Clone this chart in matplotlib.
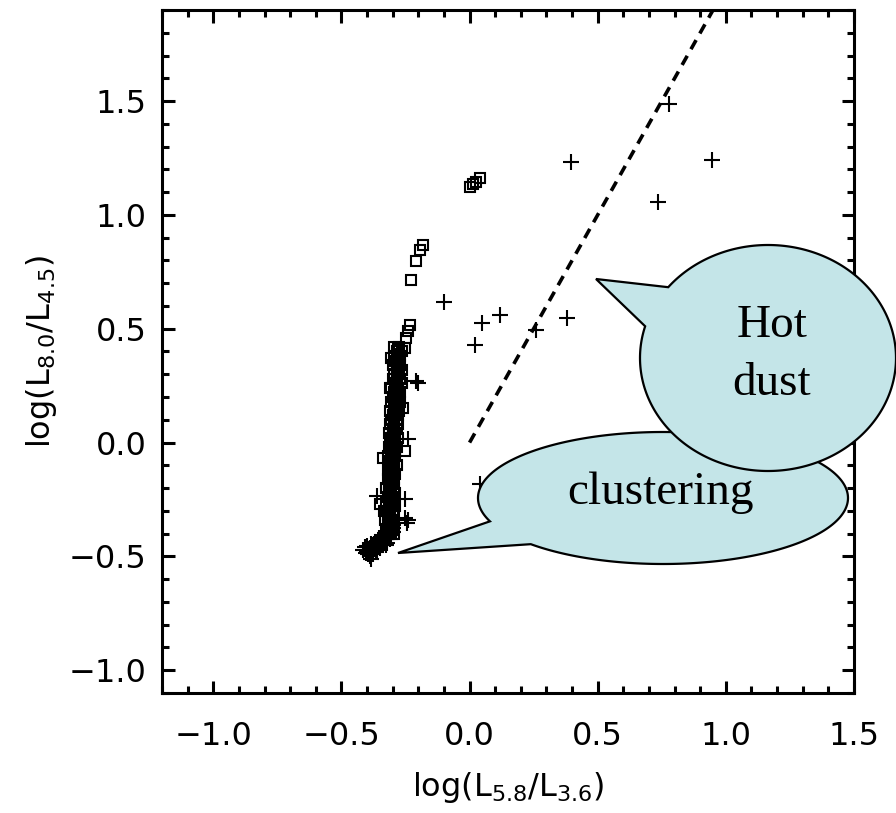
import numpy as np
import matplotlib
matplotlib.use("Agg")
import matplotlib.pyplot as plt
from matplotlib.patches import Polygon
from matplotlib.ticker import MultipleLocator

# ---------------- data ----------------
# open squares: dense column, its upper tail and the small group near (0, 1.1)
sq_x = [-0.275, -0.295, -0.285, -0.265, -0.295, -0.270, -0.290, -0.275, -0.300, -0.270,
        -0.285, -0.265, -0.295, -0.275, -0.300, -0.270, -0.290, -0.265, -0.305, -0.280,
        -0.295, -0.270, -0.300, -0.275, -0.305, -0.270, -0.295, -0.280, -0.310, -0.275,
        -0.300, -0.280, -0.305, -0.285, -0.310, -0.280, -0.300, -0.285, -0.315, -0.290,
        -0.305, -0.280, -0.310, -0.290, -0.315, -0.285, -0.305, -0.290, -0.320, -0.290,
        -0.310, -0.295, -0.315, -0.285, -0.320, -0.295, -0.310, -0.290, -0.320, -0.295,
        -0.315, -0.300, -0.325, -0.295, -0.315, -0.290, -0.320, -0.300, -0.325, -0.295,
        -0.315, -0.290, -0.325, -0.300, -0.320, -0.295, -0.330, -0.300, -0.320, -0.295,
        -0.325, -0.300, -0.315, -0.295,
        -0.280, -0.280, -0.283, -0.285, -0.283, -0.280, -0.285, -0.282, -0.285, -0.288,
        -0.285, -0.290, -0.288, -0.292, -0.290, -0.293, -0.295, -0.293, -0.300, -0.298,
        -0.300, -0.302, -0.298, -0.305, -0.303, -0.302, -0.305, -0.303, -0.305, -0.308,
        -0.310, -0.305, -0.310, -0.310, -0.303, -0.312, -0.310, -0.315, -0.308, -0.312,
        -0.305,
        -0.305, -0.338, -0.253, -0.350, -0.312, -0.335, -0.258,
        -0.253, -0.247, -0.240, -0.234, -0.227, -0.208, -0.195, -0.182,
        0.000, 0.013, 0.026, 0.039]
sq_y = [0.42, 0.42, 0.40, 0.40, 0.38, 0.38, 0.36, 0.36, 0.34, 0.34,
        0.32, 0.32, 0.30, 0.30, 0.28, 0.28, 0.26, 0.26, 0.24, 0.24,
        0.22, 0.22, 0.20, 0.20, 0.18, 0.18, 0.16, 0.16, 0.14, 0.14,
        0.12, 0.12, 0.10, 0.10, 0.08, 0.08, 0.06, 0.06, 0.04, 0.04,
        0.02, 0.02, 0.00, 0.00, -0.02, -0.02, -0.04, -0.04, -0.06, -0.06,
        -0.08, -0.08, -0.10, -0.10, -0.12, -0.12, -0.14, -0.14, -0.16, -0.16,
        -0.18, -0.18, -0.20, -0.20, -0.22, -0.22, -0.24, -0.24, -0.26, -0.26,
        -0.28, -0.28, -0.30, -0.30, -0.32, -0.32, -0.34, -0.34, -0.36, -0.36,
        -0.38, -0.38, -0.40, -0.40,
        0.41, 0.39, 0.37, 0.35, 0.33, 0.31, 0.29, 0.27, 0.25, 0.23,
        0.21, 0.19, 0.17, 0.15, 0.13, 0.11, 0.09, 0.07, 0.05, 0.03,
        0.01, -0.01, -0.03, -0.05, -0.07, -0.09, -0.11, -0.13, -0.15, -0.17,
        -0.19, -0.21, -0.23, -0.25, -0.27, -0.29, -0.31, -0.33, -0.35, -0.37,
        -0.39,
        0.371, -0.066, -0.035, -0.270, 0.240, -0.300, 0.150,
        0.415, 0.459, 0.488, 0.517, 0.713, 0.796, 0.844, 0.869,
        1.121, 1.135, 1.145, 1.160]

# plus signs
pl_x = [0.779, 0.396, 0.945, 0.734, -0.101, 0.117, 0.049, 0.023, 0.379, 0.260, 0.040,
        -0.201, -0.210, -0.240, -0.363, -0.253, -0.240, -0.245, -0.250,
        -0.409, -0.383, -0.325, -0.395, -0.380, -0.370, -0.360, -0.350, -0.340, -0.330,
        -0.320, -0.310, -0.300, -0.390, -0.375, -0.365, -0.355, -0.345, -0.335, -0.325,
        -0.315, -0.305, -0.400, -0.385, -0.370, -0.355, -0.340, -0.395, -0.360, -0.300,
        -0.295, -0.415, -0.405, -0.390, -0.378, -0.365, -0.350, -0.338, -0.322, -0.310,
        -0.298, -0.372, -0.348, -0.330, -0.312, -0.402, -0.388, -0.358, -0.344, -0.318]
pl_y = [1.485, 1.233, 1.241, 1.055, 0.619, 0.560, 0.527, 0.429, 0.546, 0.495, -0.180,
        0.262, 0.272, 0.014, -0.233, -0.248, -0.342, -0.355, -0.330,
        -0.459, -0.510, -0.451, -0.470, -0.460, -0.450, -0.440, -0.430, -0.420, -0.410,
        -0.400, -0.390, -0.375, -0.480, -0.475, -0.460, -0.455, -0.445, -0.435, -0.425,
        -0.415, -0.405, -0.455, -0.445, -0.435, -0.420, -0.405, -0.490, -0.470, -0.360,
        -0.340, -0.470, -0.485, -0.500, -0.490, -0.480, -0.465, -0.452, -0.440, -0.425,
        -0.395, -0.445, -0.428, -0.398, -0.385, -0.475, -0.462, -0.438, -0.418, -0.412]

# dashed reference line
line_x = [0.0, 0.95]
line_y = [0.0, 1.90]

x_ticks = [-1.0, -0.5, 0.0, 0.5, 1.0, 1.5]
y_ticks = [-1.0, -0.5, 0.0, 0.5, 1.0, 1.5]

# ---------------- figure ----------------
W, H = 896, 813
fig = plt.figure(figsize=(W / 100, H / 100), dpi=100)
ax = fig.add_axes([162 / W, 1 - 693 / H, (854 - 162) / W, (693 - 10) / H])

ax.plot(line_x, line_y, color="black", lw=2.6, linestyle=(0, (2.9, 2.1)), zorder=2)
ax.plot(sq_x, sq_y, linestyle="none", marker="s", markersize=7.2,
        markerfacecolor="none", markeredgecolor="black", markeredgewidth=1.5, zorder=3)
ax.plot(pl_x, pl_y, linestyle="none", marker="+", markersize=12,
        color="black", markeredgewidth=1.5, zorder=3)

ax.set_xlim(-1.2, 1.5)
ax.set_ylim(-1.1, 1.9)
ax.set_xticks(x_ticks)
ax.set_yticks(y_ticks)
ax.set_xticklabels([f"{v:.1f}".replace("-", "\u2212") for v in x_ticks])
ax.set_yticklabels([f"{v:.1f}".replace("-", "\u2212") for v in y_ticks])
ax.xaxis.set_minor_locator(MultipleLocator(0.1))
ax.yaxis.set_minor_locator(MultipleLocator(0.1))

for s in ax.spines.values():
    s.set_linewidth(2.2)
ax.tick_params(which="both", direction="in", top=True, right=True, width=2.2)
ax.tick_params(which="major", length=9)
ax.tick_params(which="minor", length=5)
ax.tick_params(axis="x", which="major", pad=20, labelsize=23)
ax.tick_params(axis="y", which="major", pad=11, labelsize=23)

ax.set_xlabel(r"log(L$_{5.8}$/L$_{3.6}$)", fontsize=23, labelpad=13)
ax.set_ylabel(r"log(L$_{8.0}$/L$_{4.5}$)", fontsize=23, labelpad=7)


# ---------------- callout bubbles (figure pixel coords, y down) ----------------
def bubble(cx, cy, a, b, base1, base2, tip):
    def ang(p):
        return np.arctan2((p[1] - cy) / b, (p[0] - cx) / a)
    t1, t2 = ang(base1), ang(base2)
    d = (t2 - t1) % (2 * np.pi)
    if d < np.pi:
        ts = np.linspace(t2, t2 + 2 * np.pi - d, 360)
    else:
        ts = np.linspace(t1, t1 + d, 360)
    pts = [(cx + a * np.cos(t), cy + b * np.sin(t)) for t in ts]
    pts.append(tip)
    return [(x / W, 1 - y / H) for x, y in pts]


fill = "#C4E5E8"
clu = bubble(663, 498, 185, 66, (485, 522), (517, 549), (398, 553))
fig.patches.append(Polygon(clu, closed=True, transform=fig.transFigure,
                           facecolor=fill, edgecolor="black", lw=1.6, zorder=5))
hot = bubble(768, 358, 128, 113, (648, 327), (675, 292), (596, 279))
fig.patches.append(Polygon(hot, closed=True, transform=fig.transFigure,
                           facecolor=fill, edgecolor="black", lw=1.6, zorder=6))

fig.text(660 / W, 1 - 493 / H, "clustering", family="Liberation Serif",
         fontsize=34, ha="center", va="center", zorder=7)
fig.text(772 / W, 1 - 326 / H, "Hot", family="Liberation Serif",
         fontsize=34, ha="center", va="center", zorder=7)
fig.text(772 / W, 1 - 384 / H, "dust", family="Liberation Serif",
         fontsize=34, ha="center", va="center", zorder=7)

fig.savefig("out.png", dpi=100)
